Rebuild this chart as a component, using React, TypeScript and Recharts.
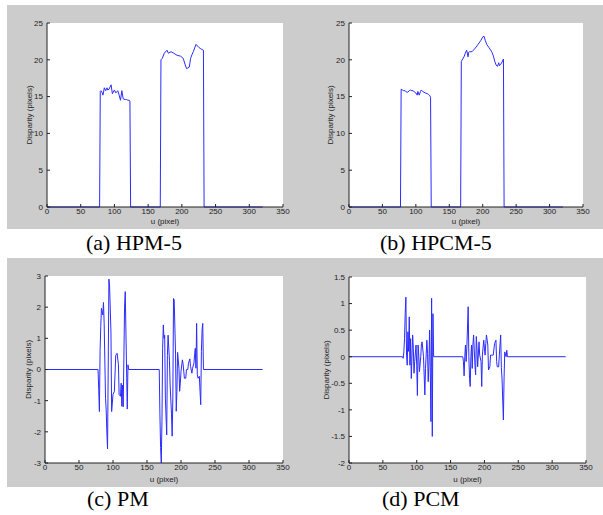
import { LineChart, Line, XAxis, YAxis, CartesianGrid } from 'recharts'

// u (pixel) and disparity (pixels)
const hpm5: [number, number][] = [
  [0, 0], [78, 0], [79, 15.7], [80, 15.8], [82, 15.5], [83, 15.2], [85, 16.2], [87, 15.8],
  [89, 16.2], [90, 15.9], [92, 16.0], [95, 16.6], [97, 15.4], [100, 15.9], [102, 15.5],
  [105, 15.8], [107, 15.2], [109, 14.5], [111, 15.8], [113, 14.7], [116, 14.6], [118, 14.6],
  [120, 14.5], [122, 14.5], [123, 14.4], [124, 0],
  [168, 0], [169, 20.0], [171, 20.2], [174, 20.9], [178, 21.3], [180, 20.9], [184, 21.1],
  [188, 20.9], [193, 20.6], [198, 20.5], [202, 20.2], [205, 19.3], [207, 18.8], [209, 18.9],
  [211, 19.0], [213, 20.2], [215, 20.7], [217, 21.1], [219, 21.6], [221, 22.1], [223, 21.9],
  [225, 21.7], [228, 21.5], [230, 21.4], [232, 21.3], [233, 0], [320, 0],
]

const hpcm5: [number, number][] = [
  [0, 0], [77, 0], [78, 16.0], [80, 15.9], [82, 15.8], [84, 15.8], [86, 15.6], [88, 15.6],
  [90, 15.8], [92, 15.9], [94, 15.8], [96, 15.8], [98, 15.6], [100, 15.5], [102, 15.2],
  [103, 15.7], [105, 15.2], [107, 15.7], [108, 15.9], [110, 15.7], [112, 15.6], [114, 15.5],
  [117, 15.4], [119, 15.3], [121, 15.1], [122, 14.9], [123, 0],
  [167, 0], [168, 19.8], [170, 20.1], [172, 20.4], [174, 20.9], [176, 21.3], [177, 20.9],
  [178, 20.4], [179, 21.0], [180, 21.1], [184, 21.1], [189, 21.6], [193, 22.1], [197, 22.6],
  [200, 23.1], [202, 23.2], [204, 22.6], [206, 22.1], [209, 21.7], [212, 21.3], [214, 21.0],
  [216, 20.5], [218, 19.8], [220, 19.3], [222, 19.1], [224, 19.6], [225, 19.2], [227, 19.4],
  [229, 19.7], [231, 20.1], [232, 0], [320, 0],
]

const pm: [number, number][] = [
  [0, 0], [78, 0], [79, -0.65], [80, -1.35], [81, 0.6], [82, 1.37], [83, 1.96], [85, 1.75],
  [86, 2.15], [87, 1.48], [89, -0.92], [90, -1.3], [91, -2.04], [92, -2.55], [94, 2.9],
  [95, 2.65], [97, 1.2], [98, -1.35], [100, -0.8], [102, -0.7], [104, 0.45], [106, 0.52],
  [108, 0.15], [109, -0.8], [111, -0.86], [112, -0.44], [113, -1.18], [114, -0.5],
  [115, -1.2], [116, 0.36], [117, 2.0], [118, 2.5], [120, -0.05], [121, -1.27], [122, 0.15],
  [123, 0],
  [168, 0], [169, -1.45], [170, -2.5], [171, -3.0], [172, -1.66], [173, 0.68], [174, 1.43],
  [175, 1.0], [176, 1.1], [177, -0.92], [179, -2.1], [180, 0.45], [181, 1.1], [183, 0.3],
  [184, -0.5], [186, -1.4], [187, -2.14], [188, -0.92], [189, 2.28], [190, 2.23], [192, 0.47],
  [193, -1.34], [194, -0.7], [195, 0.55], [197, 0.04], [198, -0.7], [199, -0.44], [200, -0.06],
  [202, 0.31], [203, 0.2], [205, -0.28], [207, -0.28], [208, 0], [210, 0], [211, 0.2],
  [213, 0.34], [214, 0.1], [216, -0.12], [217, 0.04], [219, 0.2], [220, 0.47], [221, 0.68],
  [222, 0.04], [223, 1.48], [224, -0.17], [225, -0.28], [227, -0.22], [228, -0.7],
  [229, -1.13], [230, 0.58], [231, 1.27], [232, 1.48], [233, 0], [320, 0],
]

const pcm: [number, number][] = [
  [0, 0], [79, 0], [80, -0.03], [81, 0.09], [82, 0.34], [83, 0.81], [84, 1.12], [85, 0.03],
  [86, -0.16], [87, 0.47], [88, 0.1], [89, 0.75], [90, -0.16], [91, 0.34], [92, -0.41],
  [94, 0.41], [95, 0.16], [96, -0.31], [97, -0.09], [99, 0.22], [100, -0.16], [101, -0.73],
  [102, 0.22], [103, 0.03], [104, -0.28], [106, 0.0], [107, 0.25], [108, 0.28], [110, 0.0],
  [111, -0.34], [112, -0.72], [113, -0.22], [115, 0.31], [116, 0.06], [117, -0.47],
  [118, -0.16], [119, 0.5], [120, -0.2], [121, -1.22], [122, 1.1], [123, -1.5], [124, 0.81],
  [125, 0],
  [168, 0], [169, -0.09], [170, -0.36], [171, 0.0], [172, 0.22], [173, -0.09], [174, 0.16],
  [176, 0.94], [177, 0.0], [178, -0.41], [179, -0.56], [180, 0.0], [181, 0.22], [182, -0.22],
  [183, 0.22], [184, 0.41], [186, -0.16], [187, -0.34], [188, 0.38], [189, 0.16], [190, -0.19],
  [192, 0.28], [193, 0.03], [195, -0.09], [196, -0.56], [197, 0.03], [199, 0.31], [200, 0.16],
  [201, 0.03], [202, 0.25], [203, 0.41], [205, 0.22], [206, -0.25], [208, -0.19], [209, 0.03],
  [211, 0.03], [213, 0.03], [215, 0.25], [217, 0.31], [218, -0.09], [219, -0.19], [221, -0.19],
  [222, 0.03], [224, 0.41], [225, -0.2], [226, -0.42], [228, -1.19], [229, -0.4], [230, 0.09],
  [232, 0.0], [233, 0.12], [234, 0], [320, 0],
]

const xTicks = [0, 50, 100, 150, 200, 250, 300, 350]
const hpmTicks = [0, 5, 10, 15, 20, 25]
const pmTicks = [-3, -2, -1, 0, 1, 2, 3]
const pcmTicks = [-2, -1.5, -1, -0.5, 0, 0.5, 1, 1.5]

const captions = ['(a) HPM-5', '(b) HPCM-5', '(c) PM', '(d) PCM']

const sans = '"Liberation Sans", Arial, sans-serif'
const tickStyle = { fontSize: 8, fill: '#222', fontFamily: sans }
const axisColor = '#222'
const lineColor = '#2b2bff'

interface PanelProps {
  points: [number, number][]
  yTicks: number[]
  left: number
  top: number
  width: number
  height: number
  axisWidth: number
  labelOffset: number
  marginTop: number
  marginRight: number
  xAxisHeight: number
}

function Panel(p: PanelProps) {
  const data = p.points.map(([u, d]) => ({ u, d }))
  const yDomain = [p.yTicks[0], p.yTicks[p.yTicks.length - 1]]
  return (
    <div style={{ position: 'absolute', left: p.left, top: p.top }}>
      <LineChart
        width={p.width}
        height={p.height}
        data={data}
        margin={{ top: p.marginTop, right: p.marginRight, left: 0, bottom: 0 }}
      >
        <CartesianGrid fill="#ffffff" horizontal={false} vertical={false} />
        <XAxis
          dataKey="u"
          type="number"
          domain={[0, 350]}
          ticks={xTicks}
          interval={0}
          tickSize={-3}
          tickMargin={4}
          tick={tickStyle}
          stroke={axisColor}
          height={p.xAxisHeight}
          label={{ value: 'u (pixel)', position: 'insideBottom', offset: 5, style: tickStyle }}
        />
        <XAxis
          xAxisId="top"
          dataKey="u"
          orientation="top"
          type="number"
          domain={[0, 350]}
          ticks={xTicks}
          interval={0}
          tickSize={-3}
          tick={false}
          stroke={axisColor}
          height={0}
        />
        <YAxis
          type="number"
          domain={yDomain}
          ticks={p.yTicks}
          interval={0}
          tickSize={-3}
          tickMargin={7}
          tick={tickStyle}
          stroke={axisColor}
          width={p.axisWidth}
          label={{
            value: 'Disparity (pixels)',
            angle: -90,
            position: 'insideLeft',
            offset: p.labelOffset,
            style: { ...tickStyle, textAnchor: 'middle' },
          }}
        />
        <YAxis
          yAxisId="right"
          orientation="right"
          type="number"
          domain={yDomain}
          ticks={p.yTicks}
          interval={0}
          tickSize={-3}
          tick={false}
          stroke={axisColor}
          width={0}
        />
        <Line
          dataKey="d"
          type="linear"
          stroke={lineColor}
          strokeWidth={1}
          dot={false}
          isAnimationActive={false}
        />
      </LineChart>
    </div>
  )
}

export default function App() {
  return (
    <div style={{ position: 'absolute', left: 0, top: 0, width: 603, height: 515, background: '#fff' }}>
      <svg width={603} height={515} style={{ position: 'absolute', left: 0, top: 0 }}>
        <rect x={7} y={5} width={596} height={224} fill="#cccccc" />
        <rect x={7} y={258} width={596} height={229} fill="#cccccc" />
        <g fontFamily='"Liberation Serif", "Times New Roman", serif' fontSize={22} fill="#000">
          <text x={86} y={250}>{captions[0]}</text>
          <text x={380} y={250}>{captions[1]}</text>
          <text x={87} y={506}>{captions[2]}</text>
          <text x={382} y={506}>{captions[3]}</text>
        </g>
      </svg>
      <Panel points={hpm5} yTicks={hpmTicks} left={7} top={5} width={296} height={224}
        axisWidth={40} labelOffset={22} marginTop={18} marginRight={20} xAxisHeight={22} />
      <Panel points={hpcm5} yTicks={hpmTicks} left={303} top={5} width={300} height={224}
        axisWidth={46} labelOffset={27} marginTop={18} marginRight={20} xAxisHeight={22} />
      <Panel points={pm} yTicks={pmTicks} left={7} top={258} width={296} height={229}
        axisWidth={38} labelOffset={21} marginTop={18} marginRight={20} xAxisHeight={24} />
      <Panel points={pcm} yTicks={pcmTicks} left={303} top={258} width={300} height={229}
        axisWidth={46} labelOffset={23} marginTop={19} marginRight={17} xAxisHeight={24} />
    </div>
  )
}
